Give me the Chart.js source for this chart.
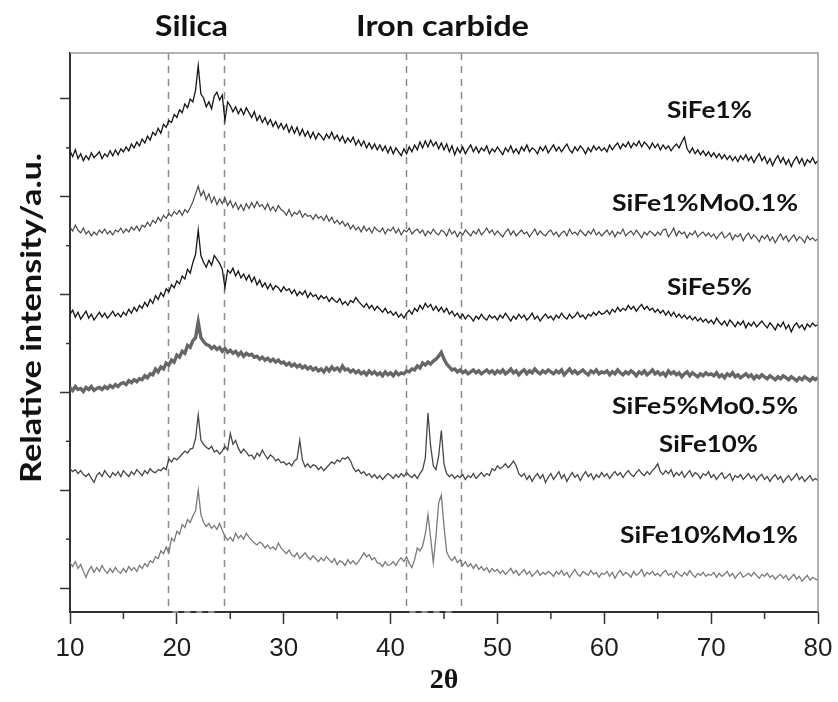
<!DOCTYPE html>
<html>
<head>
<meta charset="utf-8">
<script src="https://cdn.jsdelivr.net/npm/chart.js@4.4.1/dist/chart.umd.min.js"></script>
<style>
  html, body { margin: 0; padding: 0; background: #fff; }
  #wrap { width: 838px; height: 702px; position: relative; }
</style>
</head>
<body>
<div id="wrap"><canvas id="xrd"></canvas></div>
<script>
// 2θ sampling grid, 0.25° step from 10° to 80°
const twoTheta = Array.from({ length: 281 }, (_, i) => 10 + i * 0.25);

// intensities above each pattern's own baseline (a.u.), one row per 5°
const sife1 = [
  18, 12, 19, 10, 15, 8, 13, 9, 16, 11, 14, 17, 10, 15, 12, 18, 13, 19, 14, 20,
  17, 22, 18, 25, 21, 27, 23, 30, 26, 33, 29, 37, 34, 41, 36, 45, 42, 49, 47, 55,
  52, 60, 57, 66, 62, 71, 68, 80, 105, 76, 72, 63, 68, 61, 74, 78, 70, 75, 49, 68,
  64, 58, 63, 56, 61, 55, 62, 57, 52, 58, 49, 54, 47, 52, 45, 50, 43, 48, 41, 46,
  40, 45, 37, 43, 36, 42, 34, 40, 33, 38, 31, 37, 30, 36, 33, 29, 35, 31, 37, 30,
  34, 28, 33, 26, 31, 27, 32, 24, 29, 23, 28, 21, 26, 20, 25, 19, 24, 18, 23, 16,
  22, 15, 21, 17, 13, 20, 15, 22, 17, 24, 19, 27, 21, 28, 22, 29, 23, 27, 20, 26,
  19, 25, 17, 23, 14, 21, 16, 22, 15, 20, 24, 17, 22, 16, 21, 18, 23, 15, 20, 17,
  22, 18, 14, 21, 17, 23, 16, 20, 15, 22, 18, 24, 17, 21, 19, 15, 22, 18, 23, 16,
  20, 24, 18, 22, 17, 21, 25, 19, 16, 22, 18, 23, 20, 15, 21, 17, 23, 19, 22, 18,
  21, 17, 24, 19, 23, 26, 20, 25, 22, 27, 21, 26, 23, 28, 22, 27, 24, 20, 26, 21,
  25, 19, 24, 20, 23, 18, 22, 25, 21, 27, 32, 20, 16, 21, 15, 19, 14, 18, 13, 17,
  12, 16, 11, 15, 10, 14, 9, 13, 8, 12, 7, 13, 9, 14, 8, 12, 6, 11, 15, 8,
  12, 5, 10, 3, 9, 13, 6, 11, 4, 9, 2, 8, 12, 5, 10, 3, 9, 6, 11, 5,
  8
];
const sife1mo01 = [
  18, 14, 20, 15, 12, 17, 11, 14, 9, 13, 10, 15, 12, 16, 11, 14, 10, 15, 13, 17,
  12, 16, 13, 18, 15, 19, 14, 20, 18, 23, 19, 25, 22, 28, 24, 30, 27, 32, 29, 34,
  31, 35, 30, 36, 33, 38, 44, 52, 60, 50, 55, 46, 52, 43, 49, 41, 47, 42, 48, 40,
  45, 38, 43, 36, 41, 35, 42, 37, 43, 38, 44, 39, 41, 36, 42, 35, 39, 34, 40, 36,
  34, 30, 36, 29, 33, 31, 35, 28, 32, 29, 30, 26, 31, 27, 29, 25, 30, 24, 28, 22,
  25, 21, 24, 19, 22, 16, 20, 15, 18, 13, 19, 14, 17, 12, 18, 15, 13, 17, 11, 16,
  14, 18, 12, 16, 10, 15, 13, 17, 11, 14, 16, 12, 15, 9, 14, 11, 16, 12, 10, 15,
  13, 9, 16, 11, 14, 8, 13, 10, 15, 12, 9, 14, 11, 16, 10, 13, 17, 12, 15, 10,
  14, 11, 8, 13, 16, 10, 14, 9, 12, 15, 11, 13, 8, 12, 16, 10, 14, 11, 9, 13,
  15, 10, 13, 8, 12, 14, 9, 16, 11, 13, 10, 15, 12, 9, 14, 11, 16, 10, 13, 9,
  12, 15, 10, 14, 8, 13, 11, 16, 9, 12, 14, 10, 15, 11, 7, 13, 10, 14, 12, 9,
  13, 10, 15, 16, 8, 12, 17, 9, 14, 11, 13, 7, 12, 10, 14, 8, 11, 13, 9, 12,
  8, 11, 6, 10, 13, 7, 9, 12, 5, 10, 8, 11, 4, 9, 12, 6, 10, 7, 3, 9,
  6, 10, 4, 8, 2, 7, 11, 5, 9, 3, 7, 10, 4, 8, 6, 2, 9, 5, 7, 4,
  6
];
const sife5 = [
  16, 20, 13, 18, 11, 15, 19, 12, 16, 10, 14, 18, 13, 17, 12, 15, 19, 14, 17, 13,
  18, 15, 21, 17, 23, 19, 25, 22, 28, 24, 31, 27, 35, 31, 38, 34, 42, 39, 46, 43,
  50, 47, 55, 52, 62, 58, 69, 77, 102, 76, 69, 64, 71, 66, 76, 72, 68, 62, 43, 61,
  58, 63, 55, 60, 53, 57, 51, 56, 49, 54, 46, 51, 44, 48, 42, 47, 41, 45, 43, 39,
  44, 40, 42, 37, 41, 35, 39, 36, 40, 33, 38, 34, 36, 31, 35, 32, 34, 29, 33, 30,
  28, 32, 26, 29, 25, 30, 28, 33, 29, 26, 23, 27, 22, 25, 20, 24, 21, 18, 22, 17,
  19, 15, 18, 13, 16, 12, 17, 20, 16, 22, 19, 25, 21, 27, 23, 26, 20, 24, 19, 23,
  18, 22, 16, 19, 14, 17, 12, 16, 11, 15, 13, 9, 14, 11, 16, 12, 10, 15, 12, 14,
  10, 15, 12, 17, 13, 9, 14, 11, 16, 12, 15, 10, 13, 17, 11, 14, 9, 13, 16, 12,
  14, 10, 15, 12, 17, 13, 11, 16, 12, 14, 18, 13, 15, 11, 16, 14, 18, 15, 19, 16,
  17, 20, 16, 21, 18, 23, 19, 22, 20, 25, 21, 24, 19, 23, 26, 21, 24, 20, 22, 18,
  21, 17, 20, 15, 19, 14, 18, 13, 16, 12, 15, 11, 14, 10, 13, 9, 12, 8, 11, 7,
  10, 6, 12, 8, 5, 9, 4, 10, 7, 3, 8, 5, 9, 2, 7, 4, 8, 3, 6, 9,
  5, 2, 7, 4, 0, 6, 3, 8, 1, 5, -2, 4, 7, 2, 5, 0, 6, 3, 7, 4,
  5
];
const sife5mo05 = [
  5, 2, 6, 3, 4, 1, 5, 3, 6, 2, 4, 5, 3, 6, 4, 7, 5, 8, 6, 9,
  10, 8, 12, 10, 13, 11, 14, 13, 17, 15, 19, 18, 24, 21, 26, 24, 30, 28, 33, 31,
  38, 36, 42, 40, 48, 46, 53, 56, 72, 56, 52, 49, 48, 45, 47, 44, 46, 42, 45, 41,
  43, 40, 42, 38, 41, 37, 40, 38, 39, 36, 37, 34, 36, 33, 35, 32, 34, 31, 33, 30,
  31, 28, 30, 27, 29, 26, 28, 25, 27, 24, 26, 23, 25, 22, 24, 21, 25, 22, 26, 23,
  25, 22, 27, 23, 24, 21, 23, 20, 22, 19, 21, 18, 22, 19, 21, 18, 20, 17, 21, 18,
  20, 17, 21, 18, 20, 19, 22, 21, 24, 23, 27, 25, 30, 28, 31, 29, 32, 34, 37, 41,
  34, 29, 26, 23, 24, 21, 23, 20, 22, 19, 21, 23, 20, 22, 19, 21, 23, 20, 22, 19,
  22, 20, 23, 19, 21, 24, 20, 22, 18, 21, 23, 19, 22, 20, 24, 21, 19, 22, 20, 23,
  21, 19, 22, 20, 23, 18, 21, 24, 20, 22, 19, 21, 23, 20, 18, 22, 20, 23, 19, 21,
  20, 22, 18, 21, 19, 23, 20, 18, 21, 19, 22, 20, 17, 21, 19, 22, 18, 20, 23, 19,
  21, 18, 20, 17, 22, 19, 21, 18, 20, 16, 19, 21, 17, 20, 18, 16, 19, 17, 20, 18,
  19, 17, 20, 16, 18, 15, 19, 17, 20, 16, 18, 15, 17, 19, 16, 18, 14, 17, 15, 18,
  16, 14, 17, 15, 13, 16, 14, 17, 15, 13, 16, 14, 12, 15, 13, 16, 14, 12, 15, 13,
  15
];
const sife10 = [
  17, 14, 16, 12, 15, 11, 9, 12, 7, 3, 10, 13, 9, 15, 11, 8, 13, 10, 14, 9,
  15, 12, 9, 14, 11, 16, 13, 10, 15, 12, 17, 14, 13, 16, 15, 18, 16, 27, 24, 28,
  26, 29, 32, 35, 33, 37, 38, 48, 72, 46, 42, 39, 37, 40, 34, 36, 32, 35, 40, 36,
  53, 42, 46, 38, 33, 37, 34, 30, 31, 27, 33, 30, 36, 31, 27, 31, 29, 25, 27, 23,
  24, 21, 23, 20, 25, 27, 46, 26, 19, 22, 18, 21, 20, 16, 19, 15, 18, 21, 24, 22,
  26, 24, 28, 27, 29, 25, 18, 14, 16, 12, 14, 10, 12, 8, 11, 7, 10, 6, 9, 12,
  10, 7, 11, 8, 12, 9, 13, 10, 8, 11, 7, 12, 16, 28, 74, 40, 20, 16, 30, 56,
  22, 12, 9, 11, 7, 10, 8, 11, 6, 10, 8, 12, 7, 10, 13, 9, 12, 10, 17, 15,
  20, 17, 19, 22, 18, 21, 25, 20, 12, 9, 12, 6, 10, 4, 9, 12, 7, 11, 3, 8,
  12, 6, 10, 14, 7, 11, 4, 9, 13, 8, 11, 5, 10, 14, 9, 12, 6, 11, 8, 13,
  9, 12, 7, 11, 14, 10, 13, 8, 12, 15, 11, 9, 13, 16, 12, 10, 14, 11, 15, 18,
  22, 14, 11, 15, 12, 16, 9, 13, 10, 14, 8, 12, 15, 9, 13, 11, 7, 12, 10, 14,
  8, 11, 6, 10, 13, 7, 9, 12, 5, 10, 8, 11, 6, 9, 12, 7, 10, 5, 9, 11,
  6, 9, 4, 8, 11, 6, 9, 3, 7, 10, 5, 8, 12, 6, 9, 4, 7, 10, 5, 7,
  5
];
const sife10mo1 = [
  23, 19, 24, 17, 21, 14, 8, 15, 19, 13, 18, 14, 20, 15, 12, 17, 13, 18, 14, 12,
  17, 13, 19, 15, 18, 14, 20, 17, 22, 19, 25, 23, 29, 27, 35, 32, 39, 33, 48, 45,
  55, 52, 62, 59, 67, 64, 71, 76, 97, 72, 64, 60, 63, 58, 61, 57, 63, 56, 50, 46,
  49, 45, 53, 48, 51, 47, 53, 49, 46, 43, 41, 44, 42, 38, 41, 37, 39, 36, 43, 38,
  35, 32, 36, 31, 29, 33, 27, 30, 33, 29, 26, 30, 27, 24, 28, 25, 29, 26, 23, 27,
  21, 25, 23, 20, 26, 22, 25, 21, 24, 28, 33, 29, 31, 26, 28, 23, 22, 19, 24, 20,
  21, 24, 20, 25, 28, 24, 29, 22, 18, 26, 38, 35, 40, 52, 72, 48, 23, 50, 84, 92,
  60, 34, 28, 25, 29, 23, 26, 20, 24, 19, 22, 17, 21, 16, 19, 15, 18, 13, 17, 14,
  16, 12, 15, 11, 14, 17, 12, 15, 10, 13, 16, 11, 14, 9, 12, 15, 10, 13, 11, 14,
  12, 9, 14, 11, 15, 10, 13, 8, 12, 16, 11, 9, 14, 12, 10, 15, 11, 13, 8, 12,
  11, 14, 9, 13, 7, 12, 15, 10, 13, 11, 8, 14, 10, 12, 16, 9, 13, 11, 14, 10,
  12, 9, 13, 15, 10, 12, 8, 14, 11, 9, 13, 10, 15, 11, 8, 12, 10, 13, 9, 11,
  10, 13, 8, 12, 9, 11, 14, 9, 12, 7, 11, 13, 8, 10, 12, 9, 13, 10, 7, 11,
  9, 12, 8, 10, 6, 9, 11, 7, 10, 5, 8, 11, 6, 9, 4, 7, 10, 5, 8, 6,
  5
];

const sampleNames = ['SiFe1%', 'SiFe1%Mo0.1%', 'SiFe5%', 'SiFe5%Mo0.5%', 'SiFe10%', 'SiFe10%Mo1%'];
const series      = [sife1, sife1mo01, sife5, sife5mo05, sife10, sife10mo1];
// vertical stacking offset of each pattern
const offsets     = [429, 351, 264, 200, 105, 3];
// 2θ limits of the silica and iron carbide regions
const phaseBounds = [19.2, 24.4, 41.4, 46.6];
const xMinorTicks = [15, 25, 35, 45, 55, 65, 75];
const yMinorTicks = [50, 150, 250, 350, 450];

const lineColors = ['#161616', '#4a4a4a', '#161616', '#666666', '#474747', '#7a7a7a'];
const lineWidths = [1.3, 1.2, 1.3, 3.4, 1.3, 1.3];

// text: [string, centre x, cap centre y, cap height, width]
const sampleLabels = [
  ['SiFe1%',        709.5, 110,   16, 85],
  ['SiFe1%Mo0.1%',  705,   202.5, 16, 186],
  ['SiFe5%',        709.5, 287,   16, 85],
  ['SiFe5%Mo0.5%',  705,   405.5, 16, 186],
  ['SiFe10%',       708.5, 443.5, 16, 99],
  ['SiFe10%Mo1%',   709,   535,   16, 178],
];
const regionLabels = [
  ['Silica',       191.5, 25.5, 21, 73],
  ['Iron carbide', 442.5, 25.5, 21, 173],
];

const LATO_CAP = 0.7165;

function drawFitted(ctx, text, cx, cy, cap, width, rotated) {
  const size = cap / LATO_CAP;
  ctx.save();
  ctx.font = `bold ${size}px Lato, "Open Sans", sans-serif`;
  const w = ctx.measureText(text).width;
  ctx.translate(cx, cy);
  if (rotated) ctx.rotate(-Math.PI / 2);
  ctx.scale(width / w, 1);
  ctx.fillStyle = '#111';
  ctx.textAlign = 'center';
  ctx.textBaseline = 'alphabetic';
  ctx.fillText(text, 0, cap / 2);
  ctx.restore();
}

const decor = {
  id: 'decor',
  beforeDatasetsDraw(chart) {
    const { ctx, chartArea: a, scales: { x } } = chart;
    ctx.save();
    ctx.strokeStyle = '#8c8c8c';
    ctx.lineWidth = 1.5;
    ctx.setLineDash([7, 6]);
    phaseBounds.forEach(v => {
      const px = Math.round(x.getPixelForValue(v)) + 0.5;
      ctx.beginPath();
      ctx.moveTo(px, a.top);
      ctx.lineTo(px, a.bottom);
      ctx.stroke();
    });
    ctx.restore();
  },
  afterDraw(chart) {
    const { ctx, chartArea: a, scales: { x, y } } = chart;
    ctx.save();

    // light frame on top and right
    ctx.strokeStyle = '#999';
    ctx.lineWidth = 1.5;
    ctx.beginPath();
    ctx.moveTo(a.left, a.top);
    ctx.lineTo(a.right, a.top);
    ctx.lineTo(a.right, a.bottom);
    ctx.stroke();

    // dashed region edges running along the bottom axis
    ctx.strokeStyle = '#e6e6e6';
    ctx.lineWidth = 1.2;
    ctx.setLineDash([6, 6]);
    for (let i = 0; i < phaseBounds.length; i += 2) {
      ctx.beginPath();
      ctx.moveTo(x.getPixelForValue(phaseBounds[i]) + 4, a.bottom);
      ctx.lineTo(x.getPixelForValue(phaseBounds[i + 1]) - 4, a.bottom);
      ctx.stroke();
    }
    ctx.setLineDash([]);

    // minor ticks
    ctx.strokeStyle = '#333';
    ctx.lineWidth = 1.5;
    xMinorTicks.forEach(v => {
      const px = x.getPixelForValue(v);
      ctx.beginPath();
      ctx.moveTo(px, a.bottom);
      ctx.lineTo(px, a.bottom + 7);
      ctx.stroke();
    });
    yMinorTicks.forEach(v => {
      const py = y.getPixelForValue(v);
      ctx.beginPath();
      ctx.moveTo(a.left - 4, py);
      ctx.lineTo(a.left, py);
      ctx.stroke();
    });
    ctx.restore();

    regionLabels.forEach(l => drawFitted(ctx, ...l, false));
    sampleLabels.forEach(l => drawFitted(ctx, ...l, false));
    drawFitted(ctx, 'Relative intensity/a.u.', 30, 318, 21, 330, true);
  }
};

new Chart(document.getElementById('xrd'), {
  type: 'line',
  data: {
    datasets: series.map((ys, i) => ({
      label:       sampleNames[i],
      data:        ys.map((v, j) => ({ x: twoTheta[j], y: v + offsets[i] })),
      borderColor: lineColors[i],
      borderWidth: lineWidths[i],
      pointRadius: 0,
      tension:     0,
      fill:        false,
    })),
  },
  options: {
    animation:           false,
    responsive:          true,
    maintainAspectRatio: false,
    layout: { padding: { top: 53, right: 20, bottom: 0, left: 0 } },
    plugins: {
      legend:  { display: false },
      tooltip: { enabled: false },
    },
    scales: {
      x: {
        type: 'linear',
        min:  10,
        max:  80,
        ticks: {
          stepSize: 10,
          color:    '#1e1e1e',
          padding:  9,
          font:     { family: 'Liberation Sans', size: 26 },
        },
        grid:   { drawOnChartArea: false, tickLength: 12, tickColor: '#333', tickWidth: 1.5 },
        border: { color: '#333', width: 2 },
        title: {
          display: true,
          text:    '2θ',
          color:   '#111',
          font:    { family: 'Liberation Serif', size: 28, weight: 'bold' },
          padding: { top: 0, bottom: 4 },
        },
        afterFit(scale) {
          scale.height = 90;
          // edge labels must not shrink the plot area
          scale.paddingLeft = 0;
          scale.paddingRight = 0;
        },
      },
      y: {
        min: -24.5,
        max: 547,
        ticks: { stepSize: 100, includeBounds: false, display: false },
        grid:   { drawOnChartArea: false, tickLength: 10, tickColor: '#333', tickWidth: 1.5 },
        border: { color: '#333', width: 2 },
        afterFit(scale) { scale.width = 70; },
      },
    },
  },
  plugins: [decor],
});
</script>
</body>
</html>
